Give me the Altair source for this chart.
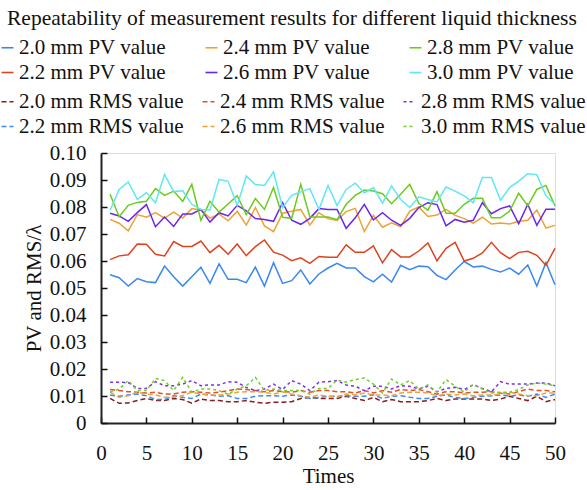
import altair as alt
import pandas as pd

times = list(range(1, 51))

pv_names = ["2.0 mm PV value", "2.2 mm PV value", "2.4 mm PV value",
            "2.6 mm PV value", "2.8 mm PV value", "3.0 mm PV value"]
pv_colors = ["#3a87f2", "#dc431f", "#f0a133", "#6a24f2", "#6ccb1c", "#5ee8f2"]

rms_names = ["2.0 mm RMS value", "2.2 mm RMS value", "2.4 mm RMS value",
             "2.6 mm RMS value", "2.8 mm RMS value", "3.0 mm RMS value"]
rms_colors = ["#8b1a1a", "#3c8cf0", "#e2502a", "#f0a336", "#7a30f0", "#72d022"]
rms_dashes = [[5, 3], [5, 3], [5, 3], [5, 3], [3, 3], [3, 3]]

pv_20 = [0.0549, 0.0538, 0.0507, 0.0535, 0.0523, 0.0520, 0.0581, 0.0542, 0.0507, 0.0542,
         0.0577, 0.0517, 0.0589, 0.0532, 0.0532, 0.0520, 0.0577, 0.0507, 0.0594, 0.0517,
         0.0527, 0.0567, 0.0515, 0.0552, 0.0574, 0.0591, 0.0574, 0.0574, 0.0542, 0.0523,
         0.0551, 0.0522, 0.0584, 0.0568, 0.0581, 0.0579, 0.0547, 0.0531, 0.0567, 0.0598,
         0.0578, 0.0581, 0.0569, 0.0559, 0.0574, 0.0551, 0.0585, 0.0507, 0.0594, 0.0512]
pv_22 = [0.0605, 0.0619, 0.0623, 0.0663, 0.0662, 0.0625, 0.0619, 0.0672, 0.0654, 0.0654,
         0.0674, 0.0631, 0.0658, 0.0625, 0.0663, 0.0620, 0.0653, 0.0678, 0.0633, 0.0622,
         0.0601, 0.0612, 0.0591, 0.0617, 0.0614, 0.0614, 0.0660, 0.0632, 0.0632, 0.0656,
         0.0593, 0.0642, 0.0615, 0.0615, 0.0637, 0.0667, 0.0601, 0.0647, 0.0669, 0.0600,
         0.0610, 0.0630, 0.0669, 0.0631, 0.0609, 0.0632, 0.0636, 0.0621, 0.0584, 0.0647]
pv_24 = [0.0754, 0.0740, 0.0712, 0.0772, 0.0762, 0.0779, 0.0759, 0.0781, 0.0759, 0.0794,
         0.0789, 0.0759, 0.0774, 0.0749, 0.0784, 0.0733, 0.0798, 0.0730, 0.0709, 0.0777,
         0.0784, 0.0791, 0.0733, 0.0779, 0.0757, 0.0750, 0.0783, 0.0795, 0.0709, 0.0769,
         0.0725, 0.0741, 0.0727, 0.0785, 0.0800, 0.0765, 0.0770, 0.0791, 0.0769, 0.0757,
         0.0740, 0.0762, 0.0737, 0.0741, 0.0737, 0.0747, 0.0751, 0.0789, 0.0722, 0.0732]
pv_26 = [0.0777, 0.0767, 0.0747, 0.0779, 0.0809, 0.0727, 0.0763, 0.0728, 0.0774, 0.0774,
         0.0791, 0.0744, 0.0779, 0.0767, 0.0806, 0.0786, 0.0757, 0.0754, 0.0747, 0.0816,
         0.0751, 0.0736, 0.0758, 0.0794, 0.0791, 0.0791, 0.0721, 0.0760, 0.0810, 0.0752,
         0.0779, 0.0751, 0.0732, 0.0758, 0.0798, 0.0816, 0.0809, 0.0730, 0.0754, 0.0744,
         0.0751, 0.0816, 0.0775, 0.0794, 0.0804, 0.0738, 0.0810, 0.0732, 0.0792, 0.0792]
pv_28 = [0.0847, 0.0764, 0.0806, 0.0817, 0.0821, 0.0868, 0.0843, 0.0859, 0.0821, 0.0884,
         0.0751, 0.0821, 0.0781, 0.0811, 0.0842, 0.0772, 0.0831, 0.0791, 0.0872, 0.0762,
         0.0758, 0.0884, 0.0763, 0.0763, 0.0763, 0.0753, 0.0810, 0.0843, 0.0863, 0.0859,
         0.0849, 0.0812, 0.0847, 0.0884, 0.0814, 0.0788, 0.0857, 0.0777, 0.0777, 0.0810,
         0.0832, 0.0832, 0.0760, 0.0760, 0.0785, 0.0851, 0.0804, 0.0865, 0.0880, 0.0804]
pv_30 = [0.0788, 0.0865, 0.0893, 0.0828, 0.0853, 0.0816, 0.0921, 0.0857, 0.0860, 0.0810,
         0.0791, 0.0789, 0.0902, 0.0895, 0.0806, 0.0915, 0.0883, 0.0880, 0.0930, 0.0798,
         0.0843, 0.0856, 0.0868, 0.0791, 0.0880, 0.0805, 0.0865, 0.0888, 0.0853, 0.0872,
         0.0814, 0.0878, 0.0828, 0.0798, 0.0838, 0.0828, 0.0819, 0.0874, 0.0859, 0.0841,
         0.0816, 0.0909, 0.0909, 0.0825, 0.0872, 0.0896, 0.0923, 0.0920, 0.0841, 0.0810]

rms_20 = [0.0091, 0.0073, 0.0074, 0.0083, 0.0091, 0.0083, 0.0083, 0.0091, 0.0087, 0.0073,
          0.0089, 0.0083, 0.0083, 0.0079, 0.0079, 0.0083, 0.0077, 0.0073, 0.0077, 0.0077,
          0.0079, 0.0091, 0.0095, 0.0091, 0.0091, 0.0091, 0.0099, 0.0091, 0.0083, 0.0095,
          0.0079, 0.0087, 0.0079, 0.0079, 0.0079, 0.0083, 0.0091, 0.0083, 0.0089, 0.0089,
          0.0089, 0.0089, 0.0083, 0.0089, 0.0099, 0.0091, 0.0083, 0.0099, 0.0079, 0.0087]
rms_22 = [0.0104, 0.0099, 0.0104, 0.0107, 0.0101, 0.0087, 0.0087, 0.0101, 0.0095, 0.0091,
          0.0107, 0.0104, 0.0099, 0.0101, 0.0091, 0.0091, 0.0099, 0.0101, 0.0101, 0.0099,
          0.0104, 0.0099, 0.0091, 0.0095, 0.0099, 0.0099, 0.0101, 0.0099, 0.0099, 0.0104,
          0.0091, 0.0099, 0.0101, 0.0095, 0.0091, 0.0091, 0.0099, 0.0104, 0.0095, 0.0091,
          0.0095, 0.0099, 0.0101, 0.0104, 0.0099, 0.0104, 0.0099, 0.0107, 0.0095, 0.0107]
rms_24 = [0.0124, 0.0120, 0.0116, 0.0114, 0.0111, 0.0114, 0.0107, 0.0107, 0.0114, 0.0116,
          0.0114, 0.0111, 0.0114, 0.0120, 0.0126, 0.0124, 0.0120, 0.0116, 0.0120, 0.0116,
          0.0114, 0.0120, 0.0114, 0.0120, 0.0120, 0.0116, 0.0116, 0.0111, 0.0120, 0.0111,
          0.0120, 0.0114, 0.0124, 0.0120, 0.0124, 0.0116, 0.0107, 0.0116, 0.0116, 0.0111,
          0.0114, 0.0114, 0.0116, 0.0111, 0.0107, 0.0116, 0.0126, 0.0120, 0.0120, 0.0116]
rms_26 = [0.0114, 0.0095, 0.0101, 0.0114, 0.0107, 0.0104, 0.0095, 0.0095, 0.0101, 0.0114,
          0.0107, 0.0104, 0.0104, 0.0107, 0.0114, 0.0116, 0.0116, 0.0114, 0.0107, 0.0116,
          0.0107, 0.0101, 0.0095, 0.0104, 0.0099, 0.0095, 0.0107, 0.0104, 0.0111, 0.0104,
          0.0104, 0.0101, 0.0111, 0.0114, 0.0114, 0.0111, 0.0101, 0.0107, 0.0104, 0.0107,
          0.0101, 0.0104, 0.0104, 0.0107, 0.0114, 0.0107, 0.0101, 0.0101, 0.0111, 0.0111]
rms_28 = [0.0151, 0.0151, 0.0150, 0.0128, 0.0128, 0.0153, 0.0138, 0.0138, 0.0144, 0.0157,
          0.0138, 0.0141, 0.0141, 0.0153, 0.0151, 0.0132, 0.0120, 0.0126, 0.0144, 0.0124,
          0.0157, 0.0144, 0.0120, 0.0151, 0.0153, 0.0157, 0.0141, 0.0136, 0.0120, 0.0136,
          0.0136, 0.0126, 0.0138, 0.0136, 0.0126, 0.0136, 0.0116, 0.0128, 0.0132, 0.0124,
          0.0141, 0.0128, 0.0116, 0.0153, 0.0144, 0.0144, 0.0144, 0.0148, 0.0148, 0.0138]
rms_30 = [0.0114, 0.0126, 0.0157, 0.0120, 0.0120, 0.0165, 0.0157, 0.0120, 0.0169, 0.0114,
          0.0126, 0.0126, 0.0120, 0.0107, 0.0126, 0.0138, 0.0169, 0.0120, 0.0126, 0.0120,
          0.0120, 0.0120, 0.0107, 0.0128, 0.0128, 0.0159, 0.0151, 0.0161, 0.0167, 0.0144,
          0.0111, 0.0163, 0.0141, 0.0157, 0.0126, 0.0141, 0.0114, 0.0161, 0.0136, 0.0114,
          0.0144, 0.0126, 0.0111, 0.0114, 0.0114, 0.0124, 0.0141, 0.0148, 0.0144, 0.0138]

x_ticks = list(range(0, 51, 5))
y_ticks = [0, 0.01, 0.02, 0.03, 0.04, 0.05, 0.06, 0.07, 0.08, 0.09, 0.10]

pv_series = {"2.0 mm PV value": pv_20, "2.2 mm PV value": pv_22, "2.4 mm PV value": pv_24,
             "2.6 mm PV value": pv_26, "2.8 mm PV value": pv_28, "3.0 mm PV value": pv_30}
rms_series = {"2.0 mm RMS value": rms_20, "2.2 mm RMS value": rms_22, "2.4 mm RMS value": rms_24,
              "2.6 mm RMS value": rms_26, "2.8 mm RMS value": rms_28, "3.0 mm RMS value": rms_30}

pv_df = pd.DataFrame([{"Times": t, "value": v, "series": k}
                      for k, vals in pv_series.items() for t, v in zip(times, vals)])
rms_df = pd.DataFrame([{"Times": t, "value": v, "series": k}
                       for k, vals in rms_series.items() for t, v in zip(times, vals)])

W, H = 454, 270
FONT = "Liberation Serif"
LFS = 21
AFS = 21

xscale = alt.Scale(domain=[0, 50], nice=False, zero=False)
yscale = alt.Scale(domain=[0, 0.1], nice=False)

legend_common = dict(
    orient="none", title=None, columns=3, symbolType="stroke", symbolSize=144,
    symbolStrokeWidth=1.6, labelFont=FONT, labelFontSize=LFS, labelColor="#111",
    labelOffset=1, rowPadding=3, labelLimit=300, padding=0,
)

pv_layer = alt.Chart(pv_df).mark_line(strokeWidth=1.5).encode(
    x=alt.X("Times:Q", scale=xscale,
            axis=alt.Axis(orient="bottom", values=x_ticks, ticks=False, title="Times",
                          labelFont=FONT, labelFontSize=AFS, labelColor="#111",
                          labelPadding=19, titleFont=FONT, titleFontSize=AFS,
                          titleFontWeight="normal", titleColor="#111", titlePadding=2,
                          domainColor="#222", domainWidth=2, grid=False, labelFlush=False)),
    y=alt.Y("value:Q", scale=yscale,
            axis=alt.Axis(orient="left", values=y_ticks, ticks=False, title="PV and RMS/λ",
                          labelExpr="datum.value == 0 ? '0' : format(datum.value, '.2f')",
                          labelFont=FONT, labelFontSize=AFS, labelColor="#111",
                          labelPadding=15, titleFont=FONT, titleFontSize=AFS,
                          titleFontWeight="normal", titleColor="#111", titlePadding=5,
                          domainColor="#222", domainWidth=2, grid=False)),
    color=alt.Color("series:N", scale=alt.Scale(domain=pv_names, range=pv_colors),
                    legend=alt.Legend(legendX=-104, legendY=-116, columnPadding=35,
                                      **legend_common)),
    detail="series:N",
)

rms_legend = alt.Legend(legendX=-104, legendY=-62, columnPadding=14, **legend_common)

rms_layer = alt.Chart(rms_df).mark_line(strokeWidth=1.5).encode(
    x=alt.X("Times:Q", scale=xscale,
            axis=alt.Axis(orient="top", offset=-H, values=x_ticks, labels=False, title=None,
                          domain=False, ticks=True, tickSize=6, tickColor="#111",
                          tickWidth=1.5, grid=False)),
    y=alt.Y("value:Q", scale=yscale,
            axis=alt.Axis(orient="right", offset=-W, values=y_ticks, labels=False, title=None,
                          domain=False, ticks=True, tickSize=6, tickColor="#111",
                          tickWidth=1.5, grid=False)),
    color=alt.Color("series:N", scale=alt.Scale(domain=rms_names, range=rms_colors),
                    legend=rms_legend),
    strokeDash=alt.StrokeDash("series:N", scale=alt.Scale(domain=rms_names, range=rms_dashes),
                              legend=rms_legend),
)

chart = alt.layer(pv_layer, rms_layer).resolve_scale(
    color="independent", strokeDash="independent"
).resolve_axis(
    x="independent", y="independent"
).properties(
    width=W, height=H,
    autosize=alt.AutoSizeParams(type="none"),
    padding={"left": 101, "top": 153, "right": 32, "bottom": 67},
    title=alt.TitleParams(
        "Repeatability of measurement results for different liquid thickness",
        font=FONT, fontSize=21.5, fontWeight="normal", color="#111", anchor="start",
        frame="group", dx=-94, offset=8,
    ),
).configure_view(
    stroke="#111", strokeWidth=1.5
).configure_legend(
    labelFont=FONT, labelFontSize=LFS, labelColor="#111"
).configure(background="white")

chart.save("out.html", embed_options={"renderer": "svg", "actions": False})
